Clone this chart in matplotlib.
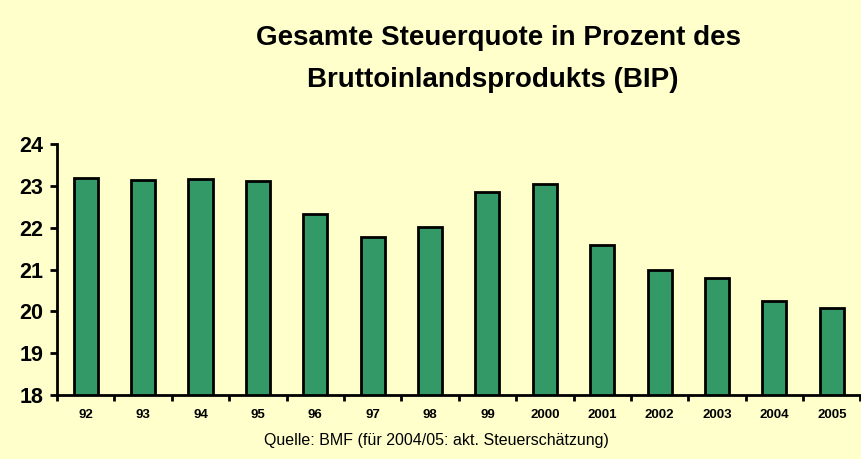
import numpy as np
import matplotlib.pyplot as plt

plt.rcParams['font.family'] = ['Liberation Sans', 'DejaVu Sans']

# Daten: gesamte Steuerquote in % des BIP
jahre = ['92', '93', '94', '95', '96', '97', '98', '99', '2000',
         '2001', '2002', '2003', '2004', '2005']
quote = [23.2, 23.15, 23.17, 23.13, 22.32, 21.77, 22.03, 22.87, 23.04,
         21.58, 20.98, 20.8, 20.26, 20.09]

bg = '#FFFFCC'
green = '#339966'

fig = plt.figure(figsize=(8.61, 4.59), dpi=100, facecolor=bg)
ax = fig.add_axes([57/861, 64/459, 803.5/861, 250.7/459], facecolor=bg)

x = np.arange(len(jahre))
ax.bar(x, quote, width=0.42, color=green, edgecolor='black', linewidth=2.0,
       zorder=2)

ax.set_xlim(-0.5, len(jahre) - 0.5)
ax.set_ylim(18, 24)
ax.set_yticks(range(18, 25))
ax.tick_params(axis='y', labelsize=15.5, width=2, length=5, pad=5)
for lbl in ax.get_yticklabels():
    lbl.set_fontweight('bold')

# Kategorienbeschriftung in der Mitte, Striche an den Grenzen
ax.set_xticks(x)
ax.set_xticklabels(jahre, fontsize=9.5, fontweight='bold')
ax.tick_params(axis='x', which='major', length=0, pad=10)
ax.set_xticks(np.arange(-0.5, len(jahre)), minor=True)
ax.tick_params(axis='x', which='minor', length=4, width=2)

for side in ['top', 'right']:
    ax.spines[side].set_visible(False)
for side in ['left', 'bottom']:
    ax.spines[side].set_linewidth(2)
ax.spines['bottom'].set_zorder(3)

fig.text(498/861, 1 - 45/459, 'Gesamte Steuerquote in Prozent des',
         ha='center', va='baseline', fontsize=20, fontweight='bold')
fig.text(493/861, 1 - 87/459, 'Bruttoinlandsprodukts (BIP)',
         ha='center', va='baseline', fontsize=20, fontweight='bold')
fig.text(436/861, 1 - 441/459, 'Quelle: BMF (für 2004/05: akt. Steuerschätzung)',
         ha='center', va='center', fontsize=11.5)

fig.savefig('out.png', dpi=100, facecolor=bg)
